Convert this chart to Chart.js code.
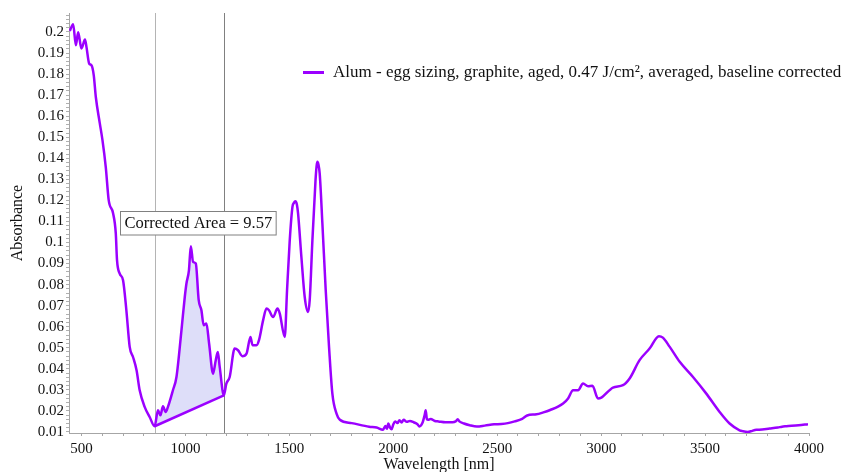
<!DOCTYPE html>
<html>
<head>
<meta charset="utf-8">
<script src="https://cdn.jsdelivr.net/npm/chart.js@4"></script>
<style>
  html, body { margin: 0; padding: 0; background: #fff; }
</style>
</head>
<body>
<canvas id="spectrumChart" width="845" height="472"></canvas>
<script>
// Spectrum: wavelength [nm] and absorbance
const wavelengths = [
  444, 460, 473, 484, 500, 517, 524, 537, 548, 559, 569, 588, 601, 617, 631, 652, 665, 671, 684, 700,
  716, 732, 748, 765, 780, 804, 828, 852, 868, 880, 892, 905, 916, 940, 957, 981, 997, 1005, 1017, 1026,
  1037, 1050, 1064, 1077, 1088, 1101, 1114, 1133, 1146, 1156, 1165, 1185, 1197, 1213, 1237, 1253, 1274, 1294, 1313, 1323,
  1342, 1354, 1374, 1390, 1402, 1422, 1443, 1454, 1478, 1489, 1502, 1515, 1522, 1529, 1536, 1542, 1558, 1574, 1590, 1598, 1611, 1626,
  1631, 1635, 1640, 1646, 1659, 1675, 1691, 1707, 1727, 1743, 1800, 1884, 1920, 1950, 1962, 1970, 1976, 1985, 1992, 2000, 2009, 2020,
  2030, 2040, 2050, 2065, 2080, 2100, 2115, 2126, 2140, 2151, 2156, 2162, 2168, 2180, 2200, 2218, 2250, 2285, 2300, 2310,
  2318, 2340, 2368, 2402, 2440, 2485, 2520, 2551, 2584, 2620, 2644, 2689, 2719, 2752, 2817, 2841, 2865, 2889, 2913, 2937,
  2958, 2985, 3001, 3057, 3105, 3137, 3185, 3233, 3278, 3297, 3330, 3378, 3442, 3506, 3570, 3618, 3666, 3680, 3706, 3720,
  3747, 3760, 3811, 3850, 3870, 3891, 3950, 3995
];
const absorbance = [
  0.2005, 0.2037, 0.1937, 0.1998, 0.1921, 0.1964, 0.1929, 0.1850, 0.1842, 0.1795, 0.1691, 0.1567, 0.1486, 0.1357, 0.1201, 0.1139, 0.1044, 0.0916, 0.0852, 0.0821,
  0.0678, 0.0504, 0.0456, 0.0393, 0.0298, 0.0219, 0.0171, 0.0127, 0.0203, 0.0179, 0.0222, 0.0195, 0.0219, 0.0298, 0.0361, 0.0583, 0.0741, 0.0805, 0.0868, 0.0982,
  0.0908, 0.0900, 0.0726, 0.0678, 0.0607, 0.0615, 0.0520, 0.0377, 0.0441, 0.0480, 0.0409, 0.0274, 0.0330, 0.0361, 0.0496, 0.0488, 0.0460, 0.0472, 0.0551, 0.0512,
  0.0512, 0.0536, 0.0631, 0.0686, 0.0678, 0.0646, 0.0686, 0.0662, 0.0551, 0.0773, 0.1011, 0.1169, 0.1188, 0.1196, 0.1182, 0.1138, 0.0931, 0.0741, 0.0670, 0.0726, 0.1011, 0.1296,
  0.1362, 0.1383, 0.1370, 0.1328, 0.1090, 0.0773, 0.0504, 0.0282, 0.0187, 0.0158, 0.0142, 0.0125, 0.0121, 0.0110, 0.0128, 0.0115, 0.0140, 0.0120, 0.0113, 0.0135, 0.0150, 0.0142,
  0.0156, 0.0145, 0.0158, 0.0148, 0.0152, 0.0145, 0.0138, 0.0126, 0.0142, 0.0180, 0.0203, 0.0160, 0.0158, 0.0162, 0.0152, 0.0150, 0.0146, 0.0146, 0.0150, 0.0160,
  0.0150, 0.0140, 0.0132, 0.0126, 0.0130, 0.0136, 0.0138, 0.0142, 0.0150, 0.0162, 0.0178, 0.0184, 0.0192, 0.0203, 0.0235, 0.0259, 0.0298, 0.0298, 0.0330, 0.0317,
  0.0320, 0.0259, 0.0263, 0.0311, 0.0322, 0.0354, 0.0441, 0.0496, 0.0555, 0.0548, 0.0504, 0.0433, 0.0361, 0.0282, 0.0195, 0.0140, 0.0108, 0.0104, 0.0100, 0.0103,
  0.0111, 0.0110, 0.0116, 0.0121, 0.0125, 0.0127, 0.0132, 0.0137
];
// labelled ticks on each axis
const xTickLabels = [500, 1000, 1500, 2000, 2500, 3000, 3500, 4000];
const yTickLabels = [0.01, 0.02, 0.03, 0.04, 0.05, 0.06, 0.07, 0.08, 0.09, 0.1,
  0.11, 0.12, 0.13, 0.14, 0.15, 0.16, 0.17, 0.18, 0.19, 0.2];
// integration limits (vertical markers) and result
const areaBounds = [852, 1185];
const seriesLabel = 'Alum - egg sizing, graphite, aged, 0.47 J/cm², averaged, baseline corrected';
const areaText = 'Corrected Area = 9.57';

const purple = '#9b00ff';
const serif = "'Liberation Serif', 'Times New Roman', serif";

const spectrum = wavelengths.map((w, i) => ({ x: w, y: absorbance[i] }));
const areaPoints = spectrum.filter(p => p.x >= areaBounds[0] && p.x <= areaBounds[1]);
const baseline = [areaPoints[0], areaPoints[areaPoints.length - 1]];

// minor ticks between the labelled ones
function xTicks(scale) {
  const ticks = [];
  for (let v = 500; v <= 4000; v += 100) ticks.push({ value: v });
  scale.ticks = ticks;
}
function yTicks(scale) {
  const ticks = [];
  for (let k = 5; k <= 104; k++) ticks.push({ value: k * 0.002 });
  scale.ticks = ticks;
}

// vertical marker lines at the integration limits
const markerLines = {
  id: 'markerLines',
  beforeDatasetsDraw(chart) {
    const { ctx, chartArea, scales } = chart;
    const colors = ['#b4b4b4', '#808080'];
    ctx.save();
    ctx.lineWidth = 1;
    areaBounds.forEach((w, i) => {
      const px = Math.round(scales.x.getPixelForValue(w)) + 0.5;
      ctx.strokeStyle = colors[i];
      ctx.beginPath();
      ctx.moveTo(px, chartArea.top);
      ctx.lineTo(px, chartArea.bottom);
      ctx.stroke();
    });
    ctx.restore();
  }
};

// legend entry and area label box
const overlays = {
  id: 'overlays',
  afterDraw(chart) {
    const ctx = chart.ctx;
    ctx.save();
    ctx.strokeStyle = purple;
    ctx.lineWidth = 3;
    ctx.beginPath();
    ctx.moveTo(303, 72.5);
    ctx.lineTo(324, 72.5);
    ctx.stroke();
    ctx.fillStyle = '#111';
    ctx.font = '17px ' + serif;
    ctx.textBaseline = 'middle';
    ctx.fillText(seriesLabel, 333, 73);

    ctx.font = '16.5px ' + serif;
    const tw = ctx.measureText(areaText).width;
    ctx.fillStyle = '#fff';
    ctx.fillRect(120.5, 211.5, tw + 8, 23.5);
    ctx.strokeStyle = '#808080';
    ctx.lineWidth = 1;
    ctx.strokeRect(120.5, 211.5, tw + 8, 23.5);
    ctx.fillStyle = '#111';
    ctx.fillText(areaText, 124.5, 224);
    ctx.restore();
  }
};

new Chart(document.getElementById('spectrumChart'), {
  type: 'line',
  data: {
    datasets: [{
      label: seriesLabel,
      data: spectrum,
      borderColor: purple,
      borderWidth: 2.5,
      pointRadius: 0,
      cubicInterpolationMode: 'monotone',
      fill: false
    }, {
      label: 'baseline',
      data: baseline,
      borderColor: purple,
      borderWidth: 2.5,
      pointRadius: 0,
      fill: false
    }, {
      label: 'area',
      data: areaPoints,
      borderWidth: 0,
      borderColor: 'rgba(0,0,0,0)',
      backgroundColor: '#dedef9',
      pointRadius: 0,
      cubicInterpolationMode: 'monotone',
      fill: 'shape'
    }]
  },
  options: {
    responsive: false,
    animation: false,
    devicePixelRatio: 1,
    layout: { padding: { top: 13, right: 36, left: 0, bottom: 0 } },
    plugins: {
      legend: { display: false },
      tooltip: { enabled: false }
    },
    scales: {
      x: {
        type: 'linear',
        min: 440,
        max: 4000,
        afterBuildTicks: xTicks,
        afterFit: scale => { scale.height = 39; },
        border: { color: '#a6a6a6' },
        grid: { drawOnChartArea: false, tickLength: 3, color: '#a6a6a6' },
        ticks: {
          autoSkip: false,
          maxRotation: 0,
          padding: 4,
          color: '#111',
          font: { family: serif, size: 15 },
          callback: v => (xTickLabels.includes(v) ? String(v) : '')
        },
        title: {
          display: true,
          text: 'Wavelength [nm]',
          color: '#111',
          font: { family: serif, size: 16, lineHeight: 0.9 },
          padding: { top: 0, bottom: 0 }
        }
      },
      y: {
        type: 'linear',
        min: 0.0095,
        max: 0.209,
        afterBuildTicks: yTicks,
        afterFit: scale => { scale.width = 69; },
        border: { color: '#a6a6a6' },
        grid: { drawOnChartArea: false, tickLength: 3, color: '#b0b0b0' },
        ticks: {
          autoSkip: false,
          padding: 2,
          color: '#111',
          font: { family: serif, size: 15 },
          callback: v => {
            const hit = yTickLabels.find(t => Math.abs(t - v) < 1e-7);
            return hit === undefined ? '' : String(hit);
          }
        },
        title: {
          display: true,
          text: 'Absorbance',
          color: '#111',
          font: { family: serif, size: 16 },
          padding: { top: 8, bottom: 8 }
        }
      }
    }
  },
  plugins: [markerLines, overlays]
});
</script>
</body>
</html>
